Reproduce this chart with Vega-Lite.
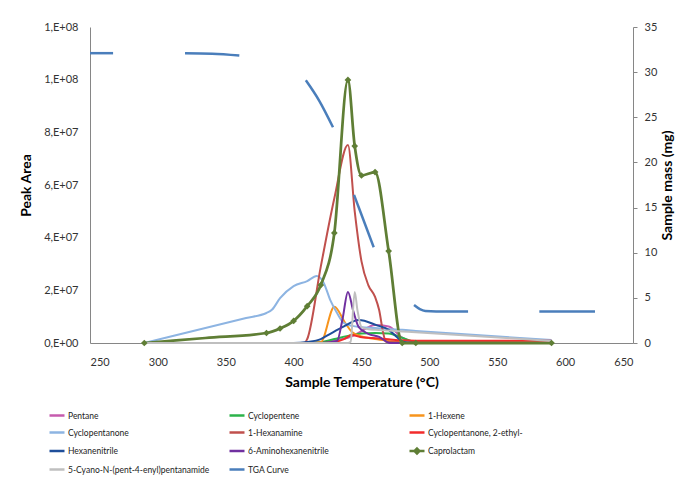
{
  "$schema": "https://vega.github.io/schema/vega-lite/v6.json",
  "width": 543,
  "height": 316,
  "autosize": "none",
  "padding": {"left": 90, "top": 27, "right": 47, "bottom": 141},
  "background": "white",
  "config": {
    "view": {"stroke": null},
    "font": "Lato",
    "axis": {"labelFont": "Lato", "labelFontSize": 11, "labelColor": "#333333", "titleFont": "Lato", "titleFontSize": 14, "titleFontWeight": "bold", "titleColor": "#000000", "domainColor": "#868686", "tickColor": "#868686", "grid": false}
  },
  "datasets": {
    "gc": [
      {"series": "Pentane", "t": 290, "v": 0},
      {"series": "Pentane", "t": 380, "v": 0},
      {"series": "Pentane", "t": 400, "v": 0},
      {"series": "Pentane", "t": 410, "v": 0},
      {"series": "Pentane", "t": 420, "v": 300000},
      {"series": "Pentane", "t": 430, "v": 1000000},
      {"series": "Pentane", "t": 440, "v": 2000000},
      {"series": "Pentane", "t": 445, "v": 3000000},
      {"series": "Pentane", "t": 450, "v": 4500000},
      {"series": "Pentane", "t": 460, "v": 6800000},
      {"series": "Pentane", "t": 470, "v": 6300000},
      {"series": "Pentane", "t": 480, "v": 2000000},
      {"series": "Pentane", "t": 490, "v": 300000},
      {"series": "Pentane", "t": 590, "v": 0},
      {"series": "Cyclopentene", "t": 290, "v": 0},
      {"series": "Cyclopentene", "t": 380, "v": 0},
      {"series": "Cyclopentene", "t": 400, "v": 0},
      {"series": "Cyclopentene", "t": 410, "v": 0},
      {"series": "Cyclopentene", "t": 420, "v": 300000},
      {"series": "Cyclopentene", "t": 430, "v": 1500000},
      {"series": "Cyclopentene", "t": 440, "v": 2700000},
      {"series": "Cyclopentene", "t": 445, "v": 3200000},
      {"series": "Cyclopentene", "t": 450, "v": 3600000},
      {"series": "Cyclopentene", "t": 460, "v": 3800000},
      {"series": "Cyclopentene", "t": 470, "v": 3600000},
      {"series": "Cyclopentene", "t": 480, "v": 2000000},
      {"series": "Cyclopentene", "t": 490, "v": 400000},
      {"series": "Cyclopentene", "t": 590, "v": 200000},
      {"series": "1-Hexene", "t": 290, "v": 0},
      {"series": "1-Hexene", "t": 380, "v": 0},
      {"series": "1-Hexene", "t": 410, "v": 0},
      {"series": "1-Hexene", "t": 420, "v": 300000},
      {"series": "1-Hexene", "t": 430, "v": 13800000},
      {"series": "1-Hexene", "t": 438, "v": 7600000},
      {"series": "1-Hexene", "t": 443, "v": 4200000},
      {"series": "1-Hexene", "t": 450, "v": 2500000},
      {"series": "1-Hexene", "t": 460, "v": 1500000},
      {"series": "1-Hexene", "t": 470, "v": 800000},
      {"series": "1-Hexene", "t": 480, "v": 200000},
      {"series": "1-Hexene", "t": 490, "v": 0},
      {"series": "1-Hexene", "t": 590, "v": 0},
      {"series": "Cyclopentanone", "t": 290, "v": 0},
      {"series": "Cyclopentanone", "t": 335, "v": 5700000},
      {"series": "Cyclopentanone", "t": 365, "v": 9500000},
      {"series": "Cyclopentanone", "t": 380, "v": 11400000},
      {"series": "Cyclopentanone", "t": 384, "v": 12600000},
      {"series": "Cyclopentanone", "t": 390, "v": 17000000},
      {"series": "Cyclopentanone", "t": 400, "v": 21600000},
      {"series": "Cyclopentanone", "t": 410, "v": 23500000},
      {"series": "Cyclopentanone", "t": 417, "v": 25400000},
      {"series": "Cyclopentanone", "t": 422, "v": 23000000},
      {"series": "Cyclopentanone", "t": 427, "v": 16300000},
      {"series": "Cyclopentanone", "t": 432, "v": 11400000},
      {"series": "Cyclopentanone", "t": 437, "v": 7600000},
      {"series": "Cyclopentanone", "t": 443, "v": 6500000},
      {"series": "Cyclopentanone", "t": 450, "v": 6000000},
      {"series": "Cyclopentanone", "t": 460, "v": 5700000},
      {"series": "Cyclopentanone", "t": 470, "v": 5300000},
      {"series": "Cyclopentanone", "t": 480, "v": 5000000},
      {"series": "Cyclopentanone", "t": 490, "v": 4600000},
      {"series": "Cyclopentanone", "t": 590, "v": 1100000},
      {"series": "1-Hexanamine", "t": 290, "v": 0},
      {"series": "1-Hexanamine", "t": 380, "v": 0},
      {"series": "1-Hexanamine", "t": 400, "v": 0},
      {"series": "1-Hexanamine", "t": 408, "v": 0},
      {"series": "1-Hexanamine", "t": 410, "v": 1500000},
      {"series": "1-Hexanamine", "t": 420, "v": 29000000},
      {"series": "1-Hexanamine", "t": 430, "v": 55000000},
      {"series": "1-Hexanamine", "t": 440, "v": 75200000},
      {"series": "1-Hexanamine", "t": 445, "v": 50000000},
      {"series": "1-Hexanamine", "t": 450, "v": 31000000},
      {"series": "1-Hexanamine", "t": 455, "v": 22000000},
      {"series": "1-Hexanamine", "t": 460, "v": 17500000},
      {"series": "1-Hexanamine", "t": 463, "v": 12500000},
      {"series": "1-Hexanamine", "t": 466, "v": 3800000},
      {"series": "1-Hexanamine", "t": 468, "v": 500000},
      {"series": "1-Hexanamine", "t": 480, "v": 200000},
      {"series": "1-Hexanamine", "t": 490, "v": 0},
      {"series": "1-Hexanamine", "t": 590, "v": 0},
      {"series": "Cyclopentanone, 2-ethyl-", "t": 290, "v": 0},
      {"series": "Cyclopentanone, 2-ethyl-", "t": 380, "v": 0},
      {"series": "Cyclopentanone, 2-ethyl-", "t": 420, "v": 0},
      {"series": "Cyclopentanone, 2-ethyl-", "t": 430, "v": 300000},
      {"series": "Cyclopentanone, 2-ethyl-", "t": 437, "v": 1500000},
      {"series": "Cyclopentanone, 2-ethyl-", "t": 443, "v": 3000000},
      {"series": "Cyclopentanone, 2-ethyl-", "t": 449, "v": 2300000},
      {"series": "Cyclopentanone, 2-ethyl-", "t": 458, "v": 1900000},
      {"series": "Cyclopentanone, 2-ethyl-", "t": 470, "v": 1400000},
      {"series": "Cyclopentanone, 2-ethyl-", "t": 480, "v": 1000000},
      {"series": "Cyclopentanone, 2-ethyl-", "t": 490, "v": 900000},
      {"series": "Cyclopentanone, 2-ethyl-", "t": 590, "v": 900000},
      {"series": "Hexanenitrile", "t": 290, "v": 0},
      {"series": "Hexanenitrile", "t": 380, "v": 0},
      {"series": "Hexanenitrile", "t": 400, "v": 0},
      {"series": "Hexanenitrile", "t": 410, "v": 400000},
      {"series": "Hexanenitrile", "t": 420, "v": 1500000},
      {"series": "Hexanenitrile", "t": 427, "v": 3500000},
      {"series": "Hexanenitrile", "t": 436, "v": 6000000},
      {"series": "Hexanenitrile", "t": 448, "v": 8700000},
      {"series": "Hexanenitrile", "t": 461, "v": 6800000},
      {"series": "Hexanenitrile", "t": 470, "v": 5000000},
      {"series": "Hexanenitrile", "t": 476, "v": 2300000},
      {"series": "Hexanenitrile", "t": 481, "v": 400000},
      {"series": "Hexanenitrile", "t": 490, "v": 0},
      {"series": "Hexanenitrile", "t": 590, "v": 0},
      {"series": "6-Aminohexanenitrile", "t": 290, "v": 0},
      {"series": "6-Aminohexanenitrile", "t": 380, "v": 0},
      {"series": "6-Aminohexanenitrile", "t": 420, "v": 0},
      {"series": "6-Aminohexanenitrile", "t": 432, "v": 800000},
      {"series": "6-Aminohexanenitrile", "t": 436, "v": 9000000},
      {"series": "6-Aminohexanenitrile", "t": 440, "v": 19400000},
      {"series": "6-Aminohexanenitrile", "t": 444, "v": 12000000},
      {"series": "6-Aminohexanenitrile", "t": 448, "v": 6000000},
      {"series": "6-Aminohexanenitrile", "t": 455, "v": 3500000},
      {"series": "6-Aminohexanenitrile", "t": 463, "v": 2300000},
      {"series": "6-Aminohexanenitrile", "t": 471, "v": 0},
      {"series": "6-Aminohexanenitrile", "t": 590, "v": 0},
      {"series": "Caprolactam", "t": 290, "v": 0},
      {"series": "Caprolactam", "t": 335, "v": 1900000},
      {"series": "Caprolactam", "t": 380, "v": 3800000},
      {"series": "Caprolactam", "t": 390, "v": 5500000},
      {"series": "Caprolactam", "t": 400, "v": 8400000},
      {"series": "Caprolactam", "t": 410, "v": 14000000},
      {"series": "Caprolactam", "t": 420, "v": 22000000},
      {"series": "Caprolactam", "t": 430, "v": 41800000},
      {"series": "Caprolactam", "t": 440, "v": 99900000},
      {"series": "Caprolactam", "t": 445, "v": 74800000},
      {"series": "Caprolactam", "t": 450, "v": 63600000},
      {"series": "Caprolactam", "t": 460, "v": 64900000},
      {"series": "Caprolactam", "t": 470, "v": 34900000},
      {"series": "Caprolactam", "t": 480, "v": 0},
      {"series": "Caprolactam", "t": 490, "v": 0},
      {"series": "Caprolactam", "t": 590, "v": 0},
      {"series": "5-Cyano-N-(pent-4-enyl)pentanamide", "t": 290, "v": 0},
      {"series": "5-Cyano-N-(pent-4-enyl)pentanamide", "t": 380, "v": 0},
      {"series": "5-Cyano-N-(pent-4-enyl)pentanamide", "t": 440, "v": 0},
      {"series": "5-Cyano-N-(pent-4-enyl)pentanamide", "t": 442, "v": 500000},
      {"series": "5-Cyano-N-(pent-4-enyl)pentanamide", "t": 445, "v": 19400000},
      {"series": "5-Cyano-N-(pent-4-enyl)pentanamide", "t": 447, "v": 12500000},
      {"series": "5-Cyano-N-(pent-4-enyl)pentanamide", "t": 450, "v": 6000000},
      {"series": "5-Cyano-N-(pent-4-enyl)pentanamide", "t": 455, "v": 5200000},
      {"series": "5-Cyano-N-(pent-4-enyl)pentanamide", "t": 460, "v": 5000000},
      {"series": "5-Cyano-N-(pent-4-enyl)pentanamide", "t": 470, "v": 4700000},
      {"series": "5-Cyano-N-(pent-4-enyl)pentanamide", "t": 480, "v": 4400000},
      {"series": "5-Cyano-N-(pent-4-enyl)pentanamide", "t": 490, "v": 4100000},
      {"series": "5-Cyano-N-(pent-4-enyl)pentanamide", "t": 590, "v": 800000}
    ],
    "tga": [
      {"seg": 1, "t": 250, "m": 32.1},
      {"seg": 1, "t": 267, "m": 32.1},
      {"seg": 2, "t": 320, "m": 32.1},
      {"seg": 2, "t": 340, "m": 32.05},
      {"seg": 2, "t": 360, "m": 31.85},
      {"seg": 3, "t": 409, "m": 29.1},
      {"seg": 3, "t": 419, "m": 26.8},
      {"seg": 3, "t": 429, "m": 23.9},
      {"seg": 4, "t": 444.5, "m": 16.4},
      {"seg": 4, "t": 459, "m": 10.6},
      {"seg": 5, "t": 488.7, "m": 4.2},
      {"seg": 5, "t": 493, "m": 3.75},
      {"seg": 5, "t": 497, "m": 3.55},
      {"seg": 5, "t": 505, "m": 3.5},
      {"seg": 5, "t": 528.5, "m": 3.5},
      {"seg": 6, "t": 581, "m": 3.5},
      {"seg": 6, "t": 622, "m": 3.5}
    ]
  },
  "layer": [
    {
      "data": {"name": "gc"},
      "encoding": {
        "x": {"field": "t", "type": "quantitative", "scale": {"domain": [250, 650], "nice": false},
          "axis": {"title": "Sample Temperature (°C)", "values": [250, 300, 350, 400, 450, 500, 550, 600, 650], "ticks": false, "tickSize": 0, "labelPadding": 13, "titlePadding": 8}},
        "y": {"field": "v", "type": "quantitative", "scale": {"domain": [0, 120000000], "nice": false},
          "axis": {"title": "Peak Area", "orient": "left", "values": [0, 20000000, 40000000, 60000000, 80000000, 100000000, 120000000], "labelExpr": "replace(format(datum.value, '.0e'), 'e+', ',E+0')", "ticks": false, "tickSize": 0, "labelPadding": 12, "titlePadding": 10}}
      },
      "layer": [
        {
          "mark": {"type": "line", "interpolate": "monotone"},
          "encoding": {
            "color": {"field": "series", "type": "nominal",
              "scale": {
                "domain": ["Pentane", "Cyclopentene", "1-Hexene", "Cyclopentanone", "1-Hexanamine", "Cyclopentanone, 2-ethyl-", "Hexanenitrile", "6-Aminohexanenitrile", "Caprolactam", "5-Cyano-N-(pent-4-enyl)pentanamide", "TGA Curve"],
                "range": ["#C65BAE", "#2CB34A", "#F7941D", "#8DB4E2", "#C0504D", "#F22B2B", "#1F4E9A", "#7030A0", "#5F7E35", "#BFBFBF", "#4A7EBB"]
              },
              "legend": {
                "orient": "none", "legendX": -42, "legendY": 378, "direction": "horizontal", "columns": 3, "title": null,
                "symbolType": "stroke", "symbolSize": 225, "symbolStrokeWidth": 2.5,
                "labelFont": "Lato", "labelFontSize": 8.5, "labelColor": "#222222", "labelOffset": 2, "labelLimit": 300,
                "columnPadding": 14, "rowPadding": 1.5, "gridAlign": "all",
                "encode": {"symbols": {"update": {
                  "shape": {"signal": "datum.value === 'Caprolactam' ? 'M-1,0H1M0,-0.33L0.33,0L0,0.33L-0.33,0Z' : 'stroke'"},
                  "fill": {"signal": "datum.value === 'Caprolactam' ? '#5F7E35' : 'transparent'"}
                }}}
              }
            },
            "strokeWidth": {"condition": {"test": "datum.series === 'Caprolactam'", "value": 2.75}, "value": 2}
          }
        },
        {
          "transform": [{"filter": "datum.series === 'Caprolactam' && datum.t !== 335"}],
          "mark": {"type": "point", "shape": "diamond", "filled": true, "size": 45, "color": "#5F7E35", "opacity": 1}
        }
      ]
    },
    {
      "data": {"name": "tga"},
      "mark": {"type": "line", "interpolate": "monotone", "strokeWidth": 2.5},
      "encoding": {
        "x": {"field": "t", "type": "quantitative"},
        "y": {"field": "m", "type": "quantitative", "scale": {"domain": [0, 35], "nice": false},
          "axis": {"title": "Sample mass (mg)", "orient": "right", "values": [0, 5, 10, 15, 20, 25, 30, 35], "ticks": true, "tickSize": 4, "labelPadding": 7, "titlePadding": 18, "titleAngle": 270}},
        "detail": {"field": "seg", "type": "nominal"},
        "color": {"datum": "TGA Curve"}
      }
    }
  ],
  "resolve": {"scale": {"y": "independent"}}
}
